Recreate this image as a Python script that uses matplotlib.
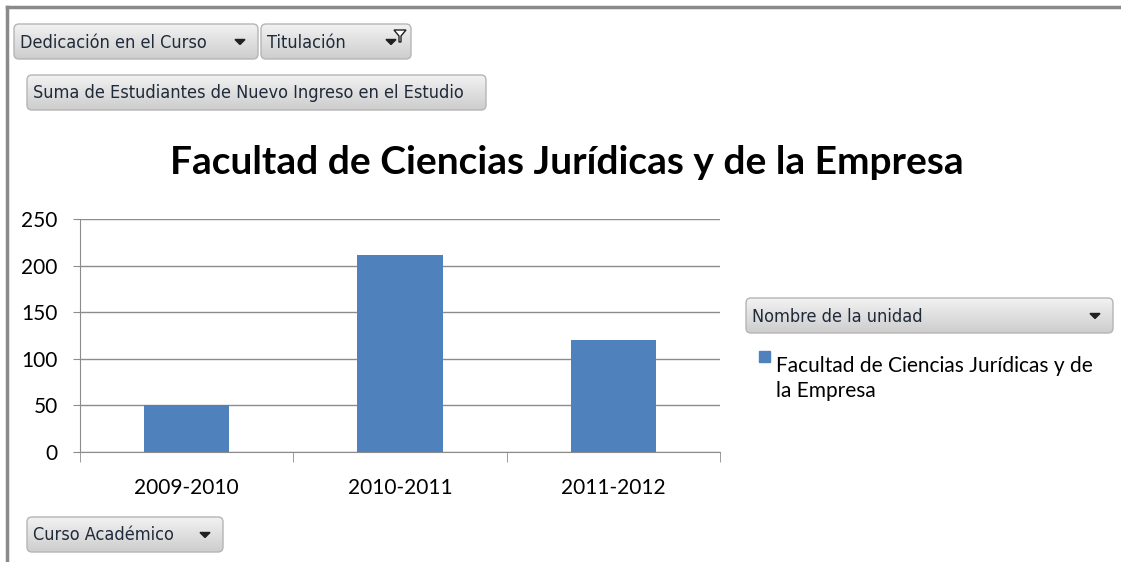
import matplotlib
matplotlib.use("Agg")
import matplotlib.pyplot as plt
import numpy as np
from matplotlib.patches import FancyBboxPatch, Rectangle
from matplotlib.lines import Line2D
from matplotlib.colors import LinearSegmentedColormap

# ---- data ----
categories = ["2009-2010", "2010-2011", "2011-2012"]
values = [50, 211, 120]
series_name = "Facultad de Ciencias Jurídicas y de\nla Empresa"
title = "Facultad de Ciencias Jurídicas y de la Empresa"
yticks = [0, 50, 100, 150, 200, 250]

W, H = 1121, 562
fig = plt.figure(figsize=(W / 100, H / 100), dpi=100)
fig.patch.set_facecolor("white")

BODY = ["Lato", "DejaVu Sans"]

# overlay axes in pixel coordinates for decorations
ov = fig.add_axes([0, 0, 1, 1], zorder=0)
ov.set_xlim(0, W)
ov.set_ylim(H, 0)
ov.axis("off")

# frame
ov.add_line(Line2D([7, W], [7, 7], color="#8a8a8a", lw=2.5))
ov.add_line(Line2D([7, 7], [7, H], color="#8a8a8a", lw=2.5))

grad = np.linspace(0, 1, 64).reshape(-1, 1)
cmap = LinearSegmentedColormap.from_list("btn", ["#f2f2f2", "#cdcdcd"])


def button(x0, y0, x1, y1, text, arrow=True, funnel=False):
    p = FancyBboxPatch((x0, y0), x1 - x0, y1 - y0,
                       boxstyle="round,pad=0,rounding_size=5",
                       facecolor="none", edgecolor="#b5b5b5", lw=1.0, zorder=2)
    ov.add_patch(p)
    im = ov.imshow(grad, cmap=cmap, extent=(x0, x1, y1, y0), aspect="auto", zorder=1)
    im.set_clip_path(p)
    ov.text(x0 + 6, (y0 + y1) / 2 + 1, text, fontsize=13, family="DejaVu Sans",
            fontstretch="condensed", color="#1f2a3a", va="center", ha="left", zorder=3)
    if arrow:
        ax_ = x1 - 18 if not funnel else x1 - 20
        cy = (y0 + y1) / 2
        ov.add_patch(plt.Polygon([[ax_ - 5, cy - 2], [ax_ + 5, cy - 2], [ax_, cy + 3]],
                                 closed=True, color="#202020", zorder=3))
        if funnel:
            fx = x1 - 11
            fy = y0 + 6
            ov.add_patch(plt.Polygon([[fx - 6, fy], [fx + 6, fy], [fx + 1, fy + 6],
                                      [fx + 1, fy + 12], [fx - 1, fy + 12], [fx - 1, fy + 6]],
                                     closed=True, facecolor="white", edgecolor="#202020",
                                     lw=1.0, zorder=3))


button(14, 24, 258, 59, "Dedicación en el Curso")
button(261, 24, 411, 59, "Titulación", funnel=True)
button(27, 75, 486, 110, "Suma de Estudiantes de Nuevo Ingreso en el Estudio", arrow=False)
button(746, 298, 1113, 333, "Nombre de la unidad")
button(27, 517, 223, 552, "Curso Académico")

# title
ov.text(567, 162, title, fontsize=28, fontweight="bold", family=BODY,
        ha="center", va="center", color="black")

# ---- chart ----
bar_color = "#4F81BD"
left, right, bottom, top = 80, 720, 452, 219
ax = fig.add_axes([left / W, 1 - bottom / H, (right - left) / W, (bottom - top) / H], zorder=1)
ax.patch.set_alpha(0)
x = np.arange(len(categories))
ax.bar(x, values, width=0.4, color=bar_color, zorder=3)
ax.set_xlim(-0.5, len(categories) - 0.5)
ax.set_ylim(0, 250)
ax.set_yticks(yticks)
ax.set_yticklabels([str(v) for v in yticks], fontsize=15, family=BODY)
ax.yaxis.grid(True, color="#8c8c8c", lw=1.0, zorder=0)
ax.set_axisbelow(True)
for s in ["top", "right"]:
    ax.spines[s].set_visible(False)
ax.spines["left"].set_color("#8c8c8c")
ax.spines["bottom"].set_color("#8c8c8c")
ax.tick_params(axis="y", length=5, color="#8c8c8c", pad=11)
ax.set_xticks(x)
ax.set_xticklabels(categories, fontsize=15, family=BODY)
ax.tick_params(axis="x", length=0, pad=19)
# category boundary tick marks
ax.set_xticks(np.arange(-0.5, len(categories)), minor=True)
ax.tick_params(axis="x", which="minor", length=7, color="#8c8c8c")

# legend
ov.add_patch(Rectangle((759, 351), 11, 11, color=bar_color, zorder=3))
ov.text(776, 356, series_name, fontsize=15, family=BODY, ha="left", va="top",
        linespacing=1.3, color="black")

fig.savefig("out.png", dpi=100)
